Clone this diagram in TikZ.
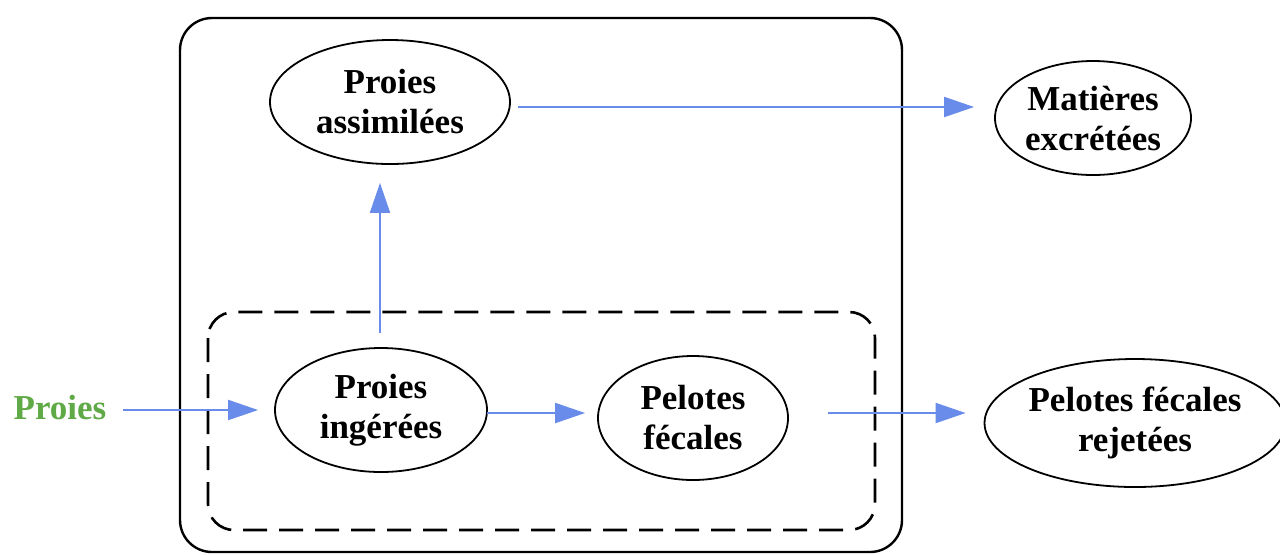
\documentclass[tikz,border=0pt]{standalone}
\usepackage{fontspec}
\setmainfont{Liberation Serif}
\usetikzlibrary{arrows.meta,shapes.geometric}
\definecolor{flowblue}{RGB}{105,140,235}
\definecolor{preygreen}{RGB}{95,170,70}

\begin{document}
\begin{tikzpicture}
            [x=0.5pt, y=-0.5pt,
             box/.style={shape=ellipse, draw=black, line width=0.9pt, inner sep=0pt,
                         align=center, font=\bfseries\fontsize{17.5}{20}\selectfont},
             flow/.style={draw=flowblue, line width=1pt,
                          -{Triangle[length=15pt, width=10pt]}}]
            \useasboundingbox (0, 0) rectangle (1280, 554);

            % compartments
            \draw[line width=1.2pt, rounded corners=16pt] (180, 18) rectangle (902, 552);
            \draw[line width=1.3pt, dash pattern=on 12pt off 6pt, rounded corners=13pt]
                (208, 312) rectangle (875, 530);

            \node[box, minimum width=120pt, minimum height=62pt] (assim) at (390, 102) {Proies\\assimilées};
            \node[box, minimum width=98pt, minimum height=57pt] (excr) at (1093, 118) {Matières\\excrétées};
            \node[box, minimum width=106pt, minimum height=62pt] (ingest) at (381, 410) {Proies\\ingérées};
            \node[box, minimum width=95pt, minimum height=62pt] (pelotes) at (693, 418) {Pelotes\\fécales};
            \node[box, minimum width=143pt, minimum height=64pt] (rejet) at (1135, 423) {Pelotes fécales\\rejetées};
            \node[text=preygreen, font=\bfseries\fontsize{17.5}{20}\selectfont] (proies) at (60, 408) {Proies};

            \coordinate (up) at (380, 333);
            \coordinate (mid) at (487, 413);
            \coordinate (out) at (828, 413);
            \coordinate (top) at (518, 107);

            \path[flow] (proies.east) ++(10, 2) -- ([xshift=-8pt]ingest.west |- 0, 410);
            \path[flow] (up) -- ([yshift=-9pt]up |- assim.south);
            \path[flow] (top) -- ([xshift=-10pt]excr.west |- top);
            \path[flow] (mid) -- ([xshift=-6pt]pelotes.west |- mid);
            \path[flow] (out) -- ([xshift=-9pt]rejet.west |- out);
        \end{tikzpicture}
\end{document}
